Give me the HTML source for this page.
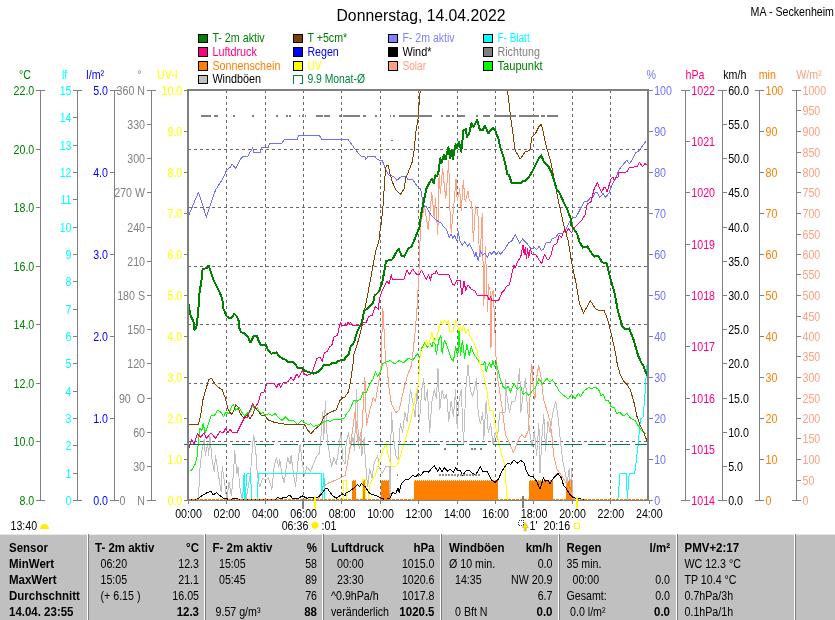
<!DOCTYPE html><html><head><meta charset="utf-8"><title>Wetter</title><style>
html,body{margin:0;padding:0;background:#fff;}body{width:835px;height:620px;overflow:hidden;font-family:"Liberation Sans",sans-serif;}
svg{display:block;will-change:transform;font-family:"Liberation Sans",sans-serif;font-size:11px;}
.b{font-weight:bold;font-size:11.5px;}
</style></head><body>
<svg width="835" height="620" viewBox="0 0 835 620">
<rect width="835" height="620" fill="#fff"/>
<text transform="translate(421 21) scale(0.955 1)" font-size="16.5" text-anchor="middle" fill="#000">Donnerstag, 14.04.2022</text>
<text transform="translate(834 16) scale(0.86 1)" font-size="12.4" text-anchor="end" fill="#000" xml:space="preserve">MA - Seckenheim</text>
<rect x="198.5" y="34.0" width="9" height="8.5" fill="#008000" stroke="#000" stroke-width="1" shape-rendering="crispEdges"/>
<text x="212.4" y="42.0" font-size="12.3" fill="#008000" textLength="52.3" lengthAdjust="spacingAndGlyphs">T- 2m aktiv</text>
<rect x="198.5" y="47.8" width="9" height="8.5" fill="#ff0080" stroke="#000" stroke-width="1" shape-rendering="crispEdges"/>
<text x="212.4" y="55.8" font-size="12.3" fill="#ff0080" textLength="44.4" lengthAdjust="spacingAndGlyphs">Luftdruck</text>
<rect x="198.5" y="61.6" width="9" height="8.5" fill="#ff8000" stroke="#000" stroke-width="1" shape-rendering="crispEdges"/>
<text x="212.4" y="69.6" font-size="12.3" fill="#ff8000" textLength="68" lengthAdjust="spacingAndGlyphs">Sonnenschein</text>
<rect x="198.5" y="75.4" width="9" height="8.5" fill="#c0c0c0" stroke="#000" stroke-width="1" shape-rendering="crispEdges"/>
<text x="212.4" y="83.4" font-size="12.3" fill="#000" textLength="48.7" lengthAdjust="spacingAndGlyphs">Windböen</text>
<rect x="293.5" y="34.0" width="9" height="8.5" fill="#804000" stroke="#000" stroke-width="1" shape-rendering="crispEdges"/>
<text x="307.4" y="42.0" font-size="12.3" fill="#008000" textLength="39.8" lengthAdjust="spacingAndGlyphs">T +5cm*</text>
<rect x="293.5" y="47.8" width="9" height="8.5" fill="#0000ff" stroke="#000" stroke-width="1" shape-rendering="crispEdges"/>
<text x="307.4" y="55.8" font-size="12.3" fill="#0000ff" textLength="31.4" lengthAdjust="spacingAndGlyphs">Regen</text>
<rect x="293.5" y="61.6" width="9" height="8.5" fill="#ffff00" stroke="#000" stroke-width="1" shape-rendering="crispEdges"/>
<text x="307.4" y="69.6" font-size="12.3" fill="#ffff00" textLength="14.3" lengthAdjust="spacingAndGlyphs">UV</text>
<path d="M293.5 83.9 V75.4 H302.5 V83.4 H299.5" fill="none" stroke="#008040" stroke-width="1" shape-rendering="crispEdges"/>
<text x="307.4" y="83.4" font-size="12.3" fill="#008040" textLength="57.6" lengthAdjust="spacingAndGlyphs">9.9 Monat-Ø</text>
<rect x="388.5" y="34.0" width="9" height="8.5" fill="#8080ff" stroke="#000" stroke-width="1" shape-rendering="crispEdges"/>
<text x="402.4" y="42.0" font-size="12.3" fill="#8080ff" textLength="52.2" lengthAdjust="spacingAndGlyphs">F- 2m aktiv</text>
<rect x="388.5" y="47.8" width="9" height="8.5" fill="#000000" stroke="#000" stroke-width="1" shape-rendering="crispEdges"/>
<text x="402.4" y="55.8" font-size="12.3" fill="#000" textLength="29.1" lengthAdjust="spacingAndGlyphs">Wind*</text>
<rect x="388.5" y="61.6" width="9" height="8.5" fill="#ffa080" stroke="#000" stroke-width="1" shape-rendering="crispEdges"/>
<text x="402.4" y="69.6" font-size="12.3" fill="#ffa080" textLength="23.7" lengthAdjust="spacingAndGlyphs">Solar</text>
<rect x="483.5" y="34.0" width="9" height="8.5" fill="#00ffff" stroke="#000" stroke-width="1" shape-rendering="crispEdges"/>
<text x="497.4" y="42.0" font-size="12.3" fill="#00ffff" textLength="32.3" lengthAdjust="spacingAndGlyphs">F- Blatt</text>
<rect x="483.5" y="47.8" width="9" height="8.5" fill="#808080" stroke="#000" stroke-width="1" shape-rendering="crispEdges"/>
<text x="497.4" y="55.8" font-size="12.3" fill="#808080" textLength="42.5" lengthAdjust="spacingAndGlyphs">Richtung</text>
<rect x="483.5" y="61.6" width="9" height="8.5" fill="#00ff00" stroke="#000" stroke-width="1" shape-rendering="crispEdges"/>
<text x="497.4" y="69.6" font-size="12.3" fill="#008000" textLength="45.3" lengthAdjust="spacingAndGlyphs">Taupunkt</text>
<g stroke="#686868" stroke-width="1" stroke-dasharray="3 3" shape-rendering="crispEdges">
<line x1="226.5" y1="90" x2="226.5" y2="500"/>
<line x1="265.5" y1="90" x2="265.5" y2="500"/>
<line x1="303.5" y1="90" x2="303.5" y2="500"/>
<line x1="341.5" y1="90" x2="341.5" y2="500"/>
<line x1="380.5" y1="90" x2="380.5" y2="500"/>
<line x1="418.5" y1="90" x2="418.5" y2="500"/>
<line x1="457.5" y1="90" x2="457.5" y2="500"/>
<line x1="495.5" y1="90" x2="495.5" y2="500"/>
<line x1="533.5" y1="90" x2="533.5" y2="500"/>
<line x1="572.5" y1="90" x2="572.5" y2="500"/>
<line x1="610.5" y1="90" x2="610.5" y2="500"/>
<line x1="188" y1="149.5" x2="648" y2="149.5"/>
<line x1="188" y1="207.5" x2="648" y2="207.5"/>
<line x1="188" y1="266.5" x2="648" y2="266.5"/>
<line x1="188" y1="324.5" x2="648" y2="324.5"/>
<line x1="188" y1="383.5" x2="648" y2="383.5"/>
<line x1="188" y1="441.5" x2="648" y2="441.5"/>
</g>
<rect x="352.4" y="479.7" width="3.2" height="20.3" fill="#ff8000" shape-rendering="crispEdges"/>
<line x1="352.4" y1="480.5" x2="355.6" y2="480.5" stroke="#fff" stroke-width="1" stroke-dasharray="1 1" shape-rendering="crispEdges"/>
<rect x="363" y="479.7" width="2.8" height="20.3" fill="#ff8000" shape-rendering="crispEdges"/>
<line x1="363" y1="480.5" x2="365.8" y2="480.5" stroke="#fff" stroke-width="1" stroke-dasharray="1 1" shape-rendering="crispEdges"/>
<rect x="380.7" y="479.7" width="8.8" height="20.3" fill="#ff8000" shape-rendering="crispEdges"/>
<line x1="380.7" y1="480.5" x2="389.5" y2="480.5" stroke="#fff" stroke-width="1" stroke-dasharray="1 1" shape-rendering="crispEdges"/>
<rect x="414.3" y="479.7" width="83.7" height="20.3" fill="#ff8000" shape-rendering="crispEdges"/>
<line x1="414.3" y1="480.5" x2="498" y2="480.5" stroke="#fff" stroke-width="1" stroke-dasharray="1 1" shape-rendering="crispEdges"/>
<rect x="529.4" y="479.7" width="23.5" height="20.3" fill="#ff8000" shape-rendering="crispEdges"/>
<line x1="529.4" y1="480.5" x2="552.9" y2="480.5" stroke="#fff" stroke-width="1" stroke-dasharray="1 1" shape-rendering="crispEdges"/>
<rect x="566" y="479.7" width="6.7" height="20.3" fill="#ff8000" shape-rendering="crispEdges"/>
<line x1="566" y1="480.5" x2="572.7" y2="480.5" stroke="#fff" stroke-width="1" stroke-dasharray="1 1" shape-rendering="crispEdges"/>
<g shape-rendering="crispEdges" stroke-linejoin="round">
<polyline points="198.5,499.8 199.7,471.1 201.9,450.8 204.2,439.5 205.3,455.3 207.6,444.0 208.7,455.3 209.8,435.0 212.1,459.8 214.3,471.1 215.5,455.3 218.9,477.9 221.1,491.4 222.2,466.6 224.5,482.4 226.8,499.8 229.0,482.4 231.3,495.9 233.5,473.4 234.7,450.8 236.9,473.4 238.0,466.6 240.3,491.4 242.6,499.8 245.9,499.8 248.2,486.9 250.5,473.4 252.7,444.0 253.8,435.0 256.1,455.3 257.2,473.4 259.5,486.9 262.9,477.9 265.1,480.1 268.5,477.9 271.9,489.2 274.2,466.6 276.4,457.6 278.7,466.6 279.8,459.8 282.1,475.6 284.3,482.4 286.6,464.3 287.7,457.6 290.0,464.3 291.1,455.3 293.4,473.4 295.6,486.9 297.9,462.1 300.1,444.0 302.4,464.3 304.6,475.6 306.9,466.6 310.3,471.1 312.5,466.6 315.9,457.6 319.3,453.0 321.6,430.5 322.7,412.4 323.8,439.5 325.4,401.1 327.2,437.2 329.5,455.3 331.7,466.6 334.0,457.6 336.2,464.3 338.5,450.8 340.8,432.7 343.0,459.8 345.0,464.3 346.1,444.0 348.4,432.7 350.6,448.5 352.9,437.2 354.5,450.8 356.3,389.8 357.4,410.1 358.5,444.0 360.8,432.7 361.9,455.3 364.2,437.2 365.3,459.8 367.6,486.9 369.8,468.8 372.1,477.9 374.3,462.1 377.7,455.3 378.9,466.6 382.2,473.4 385.6,466.6 389.7,466.6 390.1,499.8 390.6,466.6 391.3,412.4 393.5,437.2 395.8,455.3 398.0,459.8 400.3,423.7 402.6,432.7 404.8,412.4 407.1,421.4 410.5,389.8 412.7,401.1 415.0,416.9 417.2,389.8 419.5,421.4 421.7,389.8 423.6,378.5 425.1,401.1 427.4,389.8 429.7,432.7 431.9,401.1 434.2,389.8 436.4,398.9 438.0,368.4 439.8,410.1 442.1,389.8 444.3,398.9 446.6,394.3 448.8,421.4 451.1,401.1 453.4,416.9 455.6,389.8 457.2,428.2 459.0,401.1 461.3,389.8 463.5,444.0 465.8,389.8 468.0,365.0 470.3,389.8 472.5,396.6 474.8,387.6 476.4,378.5 478.2,412.4 480.4,423.7 482.7,412.4 483.8,439.5 486.1,401.1 488.3,432.7 490.6,423.7 492.9,444.0 495.1,432.7 497.4,439.5 499.6,412.4 505.0,412.4 505.0,378.5 507.3,398.9 509.5,412.4 511.8,401.1 515.2,401.1 517.4,387.6 519.7,368.4 520.8,412.4 523.1,394.3 525.3,378.5 527.6,410.1 529.8,432.7 532.1,446.3 534.3,430.5 536.6,455.3 538.9,423.7 540.0,473.4 542.2,432.7 543.8,414.7 545.6,450.8 547.9,421.4 550.1,432.7 552.4,414.7 555.8,401.1 558.0,416.9 560.3,439.5 562.6,459.8 564.8,471.1 567.1,482.4 569.3,468.8 570.5,486.9 571.6,468.8 572.7,498.2 573.8,499.8" fill="none" stroke="#c0c0c0" stroke-width="1" />
<polyline points="318.2,499.8 322.7,486.9 329.5,482.4 336.2,480.1 345.0,475.6 347.3,464.3 349.5,450.8 352.9,428.2 355.2,410.1 357.4,439.5 359.7,448.5 361.9,430.5 364.2,387.6 364.9,377.4 366.4,425.9 369.8,410.1 373.2,397.7 375.5,401.1 378.9,380.8 381.1,365.0 381.8,337.9 382.9,308.5 384.5,337.9 385.6,362.7 386.8,365.0 389.0,387.6 391.3,403.4 395.8,412.4 399.2,410.1 403.7,389.8 407.1,376.3 411.6,365.0 415.0,333.4 417.2,306.3 419.0,270.1 420.6,225.0 419.7,229.9 420.9,222.6 424.5,205.7 428.2,229.9 431.8,192.4 434.2,217.8 435.4,198.4 437.8,234.7 439.1,174.2 440.3,193.6 442.7,168.2 443.9,181.5 445.8,198.4 448.7,160.9 450.0,210.5 451.2,232.3 453.6,208.1 456.0,179.1 457.2,200.8 459.6,188.7 461.3,210.5 463.3,180.3 465.2,202.1 468.1,191.2 469.3,200.8 471.7,202.1 473.4,242.0 475.4,206.9 477.8,210.5 479.0,244.4 480.2,256.5 482.2,213.0 483.8,306 485.5,246.9 487.5,312 488.5,285 490,290 491,348 492,295 493.2,290 494.2,312 495.8,354 497.4,376.8 502.3,409 505.5,434.8 508.7,441.3 513.5,452.6 518.4,439.7 521.6,434.8 524.8,438 528,431.6 529.7,409 530.6,376.8 531.9,363.9 533.5,389.7 534.8,400 536.8,376.8 538.7,365.5 541,376.8 543.4,398.9 546.8,410.1 550.1,421.4 552.4,439.5 553.5,455.3 556.9,468.8 561.4,475.6 565.9,482.4 569.3,489.2 572.7,495.9 575.0,499.8" fill="none" stroke="#ffa080" stroke-width="1" />
<polyline points="188.4,215.9 198.5,192.2 206.4,217.1 215.5,190.0 222.2,179.8 226.8,169.7 230.1,167.4 232.0,164.0 235.8,168.5 240.3,159.5 243.2,156.1 247.8,156.1 252.7,147.8 253.8,152.3 260.6,152.3 261.7,147.1 268.5,147.1 269.7,143.2 282.1,143.2 284.3,139.2 297.2,139.2 298.5,135.1 319.3,135.1 321.6,139.2 345.0,139.2 348.4,139.9 355.2,149.3 360.8,156.1 364.9,156.8 365.8,159.5 367.6,156.8 375.5,156.8 377.1,159.5 382.2,160.6 386.8,171.9 389.0,175.3 393.5,176.4 396.9,180.3 401.4,176.4 405.9,176.4 408.2,179.8 412.7,179.8 418.4,187.7 420.6,188.8 422.9,202.4 424.0,205.8 426.3,206.9 430.8,214.8 436.4,220.4 442.1,223.8 442.1,225.0 446.6,229.5 449.3,237.4 451.1,234.0 452.9,238.5 454.5,235.2 456.7,240.8 458.3,231.8 460.1,241.9 462.4,245.3 464.6,241.9 468.0,246.4 469.2,243.1 472.5,249.8 474.8,256.6 475.9,252.1 478.2,261.1 480.4,251.0 482.7,255.5 485.0,253.2 487.2,257.7 489.5,252.1 491.7,254.3 494.0,251.0 496.2,254.3 498.5,251.6 500.8,254.3 503.0,251.0 505.0,249.4 505.0,248.7 508.4,243.1 511.8,240.8 515.2,234.5 519.7,243.1 522.6,239.0 527.6,244.2 531.0,248.7 534.3,247.6 536.6,249.8 538.9,246.4 541.1,250.3 543.4,249.8 545.6,243.1 550.1,242.6 552.4,238.5 555.8,237.4 558.0,234.0 562.6,233.6 565.9,229.5 568.2,225.0 571.6,218.2 576.1,217.1 584.0,201.9 587.4,201.3 590.8,197.4 593.0,197.4 595.3,192.2 597.6,192.9 599.8,197.2 603.2,193.4 605.5,197.2 608.8,193.4 612.2,184.3 615.6,178.7 619.0,169.7 626.9,160.2 629.6,164.0 635.9,152.7 638.2,151.6 646.1,141.0" fill="none" stroke="#7070ff" stroke-width="1" />
<polyline points="242.6,499.8 244.1,473.4 245.0,499.8 247.1,473.4 250.5,473.4 251.8,499.8" fill="none" stroke="#00ffff" stroke-width="1" />
<polyline points="257.2,499.8 258.4,473.4 321.6,473.4 322.2,499.8 323.8,473.4 325.0,499.8" fill="none" stroke="#00ffff" stroke-width="1" />
<polyline points="617.9,499.8 620.1,473.4 626.4,473.4 627.3,499.8 629.2,473.4 634.8,473.4 638.2,444.0 640.4,419.2 643.1,416.9 645.0,394.3 646.1,376.3 646.8,365.0" fill="none" stroke="#00ffff" stroke-width="1" />
<polyline points="189.5,470.0 191.8,470.0 195.2,464.3 197.4,455.3 198.5,439.5 199.7,428.2 201.9,430.5 203.1,423.7 205.3,432.7 207.6,425.9 211.0,415.8 214.3,415.8 217.7,410.1 221.1,412.4 223.4,416.9 225.6,412.4 229.0,413.5 231.3,406.8 233.5,404.5 235.8,410.1 239.2,407.9 242.6,413.5 244.8,415.8 248.2,412.4 250.5,411.3 252.7,405.6 255.0,409.0 257.2,407.9 260.6,413.5 262.9,412.4 265.1,415.8 268.5,413.5 271.9,415.8 275.3,413.5 278.7,418.0 282.1,420.3 285.5,416.9 288.8,420.3 293.4,420.3 297.9,424.8 301.3,420.3 304.6,422.6 308.0,424.8 310.3,423.7 313.7,426.4 318.2,424.8 322.7,422.6 327.2,420.3 330.6,421.4 334.0,419.2 338.5,419.6 343.0,418.7 345.0,417.4 345.0,415.8 349.5,410.1 354.0,400.0 357.4,401.1 360.8,398.9 363.1,392.1 366.4,392.1 369.8,384.2 373.2,378.5 375.5,371.8 377.7,376.3 381.1,369.5 382.2,365.0 382.2,363.8 390.1,360.4 394.7,363.8 399.2,360.4 403.7,362.7 408.2,358.2 412.7,360.4 417.2,353.7 419.5,358.2 421.7,348.0 425.1,342.4 427.4,348.0 429.7,342.4 431.9,346.9 434.2,337.9 436.4,354.8 438.7,340.1 440.9,335.6 442.1,353.7 444.3,340.1 446.6,344.6 448.8,351.4 451.1,358.2 453.4,361.6 455.6,346.9 457.9,355.9 459.0,331.1 460.6,355.9 462.4,340.1 464.6,358.2 466.9,344.6 469.2,355.9 471.4,346.9 473.7,353.7 475.9,357.1 478.2,360.4 480.4,364.5 482.7,365.0 485.0,361.6 486.1,371.8 487.9,366.1 489.5,362.7 491.3,367.7 492.9,360.5 494.4,366.8 496.2,362.7 498.5,371.8 500.8,380.8 503.0,386.4 505.0,388.7 505.0,388.7 508.4,386.4 510.6,392.1 514.0,383.1 517.4,389.8 520.8,386.4 523.1,394.3 526.4,392.1 528.7,395.5 532.1,391.0 535.5,387.6 538.9,378.5 542.2,384.2 546.8,378.5 550.1,381.9 552.4,379.7 555.8,385.3 559.2,391.0 563.7,395.5 568.2,398.9 571.6,394.3 575.0,398.9 578.4,393.2 580.6,396.6 584.0,391.0 588.5,387.6 591.9,388.7 595.3,387.1 598.7,389.8 600.9,395.5 603.2,394.3 605.5,400.0 608.8,401.1 611.1,406.8 614.5,407.9 616.7,413.5 620.1,412.4 623.5,415.8 626.9,413.5 630.3,418.0 634.8,420.3 638.2,425.9 641.6,430.5 646.1,433.8" fill="none" stroke="#00ff00" stroke-width="1" />
<polyline points="343.7,499.8 343.7,480 346.5,480 346.5,499.8" fill="none" stroke="#ffff00" stroke-width="1" />
<polyline points="362.4,499.8 362.4,479.5 365.2,479.5 365.2,499.8" fill="none" stroke="#ffff00" stroke-width="1" />
<polyline points="368.3,499.8 369.5,485 372,480 375.5,475 378,466 380.5,457 383.5,449 386,443.5 388.5,456 391,466 395.5,467 398.5,463 401.5,452 405.9,437.2 410.5,421.4 413.8,405.6 416.1,392.1 418.4,385.3 419.5,365.0 420.6,350.3 424.0,346.9 426.3,340.1 428.5,345.8 431.9,332.2 434.2,342.4 437.6,333.4 439.8,324.3 440.9,320.9 442.5,324.3 444.3,320.9 446.6,323.2 448.4,320.9 449.5,331.1 452.9,332.2 455.6,320.3 457.2,323.2 459.0,331.1 460.6,326.6 461.9,331.1 463.5,325.5 465.8,333.4 468.0,328.8 470.3,336.7 473.7,342.4 477.1,351.4 479.3,361.6 480.4,365.0 483.8,376.3 487.2,392.1 489.5,410.1 492.9,410.1 495.1,423.7 498.5,441.7 501.9,455.3 505.0,465.5 505.0,471.1 507.3,499.8" fill="none" stroke="#ffff00" stroke-width="1" />
<polyline points="188.4,449.7 191.8,439.5 194.0,444.0 197.4,433.8 200.8,437.2 204.2,432.7 206.4,438.4 211.0,432.7 215.5,438.4 220.0,431.6 223.4,432.7 225.6,428.2 227.9,432.7 230.1,429.3 232.4,432.7 236.9,432.7 241.4,423.7 244.8,416.9 247.1,418.0 250.5,409.0 252.7,403.4 255.0,407.9 258.4,402.2 260.6,393.2 264.0,392.1 266.7,383.5 274.2,383.1 276.4,387.6 278.7,383.1 280.9,387.6 283.2,382.6 287.7,381.9 291.1,377.4 293.4,380.8 296.7,374.0 299.0,377.4 302.4,370.6 304.6,374.0 306.9,375.2 311.4,374.0 314.8,365.0 317.1,358.2 320.4,357.1 322.2,361.6 324.5,352.5 327.2,351.4 329.5,346.9 331.7,345.8 334.0,336.7 337.4,335.6 339.6,325.5 340.8,322.1 341.9,325.9 345.0,325.9 345.0,323.2 346.8,325.5 347.7,322.1 349.1,324.3 350.6,322.1 352.9,325.9 360.8,325.9 363.1,322.1 366.4,322.1 368.7,316.4 372.1,315.3 375.5,306.3 378.4,309.7 379.3,299.5 382.2,290.5 386.8,281.4 389.0,283.7 391.3,274.7 392.4,279.9 403.7,279.9 407.1,270.1 409.3,274.7 412.7,269.0 416.8,274.7 419.5,274.2 421.7,270.1 426.3,279.2 428.5,274.7 430.3,280.3 431.9,274.2 435.3,273.5 436.4,270.1 438.0,274.2 448.8,274.2 452.2,283.7 454.5,285.5 456.7,280.3 460.1,280.3 461.9,295.0 464.0,281.4 465.8,290.5 468.0,284.8 471.4,289.3 474.8,290.5 477.1,295.4 487.2,295.4 489.0,299.5 490.6,296.8 491.7,300.6 498.5,300.6 501.9,292.7 505.0,289.3 505.0,288.2 507.3,285.9 509.5,284.8 512.9,269.0 514.0,265.6 515.2,267.9 517.4,262.2 520.8,256.6 523.1,244.9 524.2,254.3 525.3,247.6 526.4,258.9 527.6,248.7 528.7,257.7 530.3,248.7 532.1,254.3 535.5,254.3 537.7,257.7 541.6,263.8 544.5,254.3 546.8,258.9 549.0,259.3 551.3,254.3 553.5,245.3 556.9,243.5 559.2,235.2 561.4,237.4 564.1,230.6 565.9,232.9 568.2,228.4 571.6,232.9 573.8,228.4 577.2,225.0 578.4,223.8 581.7,220.4 585.1,214.8 587.4,203.5 590.8,202.4 594.2,188.8 597.6,182.5 599.4,187.7 601.6,192.2 603.9,187.7 605.5,187.7 607.0,192.2 611.1,178.7 612.9,177.1 614.5,180.9 615.6,177.1 617.9,177.1 619.0,172.6 626.9,171.9 629.2,167.4 637.1,166.7 639.3,162.2 642.7,166.7 645.0,163.6 646.8,165.1" fill="none" stroke="#ff0080" stroke-width="1" />
<polyline points="188.4,424.4 198.5,424.4 200.8,414.7 203.1,398.9 206.4,387.6 208.7,379.7 211.6,378.1 214.3,383.1 218.9,387.6 222.2,389.8 225.6,398.9 227.9,409.0 231.3,414.7 233.5,411.3 235.8,404.5 238.0,406.8 240.3,413.5 243.7,418.0 247.1,414.7 250.0,418.5 252.7,414.7 255.4,407.9 258.4,411.3 261.7,415.8 265.1,415.8 268.5,420.3 275.3,422.6 284.3,424.1 297.9,424.8 304.6,424.8 308.0,430.5 311.0,433.8 314.8,429.3 320.4,424.8 323.8,416.9 329.5,412.4 336.2,410.1 339.6,401.1 343.0,397.7 345.0,397.3 345.0,396.6 348.4,392.1 350.6,380.8 352.9,365.0 354.0,353.7 358.5,340.1 361.9,326.6 364.2,311.9 367.6,295.0 371.0,276.9 373.2,264.5 375.5,252.1 378.9,240.8 380.7,225.0 381.1,225.0 383.4,202.4 384.5,182.1 385.6,168.5 386.8,165.1 388.3,165.8 390.1,174.2 392.4,182.1 395.8,190.0 400.3,194.5 404.1,188.8 405.9,177.6 409.3,169.7 412.3,161.7 413.8,152.7 416.1,130.1 418.4,116.6 419.5,96.3 420.6,89.1" fill="none" stroke="#804000" stroke-width="1" />
<polyline points="507.3,89.1 510.6,116.6 515.2,150.5 520.3,159.0 525.3,151.6 529.8,150.5 532.1,136.9 535.5,133.5 538.9,126.8 541.1,124.5 542.9,130.1 545.6,143.7 551.3,164.0 554.7,182.1 559.2,204.6 563.7,225.0 568.2,240.8 571.6,262.2 576.1,283.7 579.5,304.0 583.6,313.0 590.3,300.6 595.3,308.5 599.8,310.8 604.3,310.8 607.7,319.8 610.6,331.1 613.4,343.5 615.6,353.7 617.4,365.0 620.1,374.0 623.5,380.8 626.9,384.2 630.3,389.8 633.7,401.1 637.1,416.9 640.4,425.9 643.8,432.7 646.8,440.6" fill="none" stroke="#804000" stroke-width="1" />
<line x1="183.5" y1="444.5" x2="227" y2="444.5" stroke="#008040" stroke-width="1"/>
<line x1="232.4" y1="444.5" x2="648" y2="444.5" stroke="#008040" stroke-width="1" stroke-dasharray="18 5.7"/>
<polyline points="188,499.5 197,499.5 198.5,498.2 203.1,494.8 207.6,492.5 211.0,491.4 213.2,494.8 216.6,492.5 218.9,494.8 223.4,498.2 230.1,499.5 234.7,498.2 239.2,499.5 252.7,499.5 275.3,499.5 277.6,497.1 279.8,498.6 286.6,497.1 290.0,494.8 292.2,498.2 297.9,498.6 302.4,495.9 306.9,498.2 311.4,497.1 314.8,498.6 318.2,497.1 321.6,493.7 325.0,489.2 327.2,488.0 329.5,491.4 332.9,495.9 336.2,498.2 339.6,495.9 343.0,493.7 345.0,495.9 345.0,493.7 349.5,491.4 354.0,488.0 357.4,484.6 359.7,486.9 361.3,483.5 365.3,486.9 369.8,493.7 376.6,495.9 384.5,499.5 390.1,498.2 392.4,492.5 395.8,493.7 398.0,488.0 399.2,492.5 401.4,483.5 404.8,480.1 409.3,479.0 412.7,475.6 416.1,476.7 418.4,473.4 420.6,475.6 424.0,471.1 428.5,472.2 434.2,465.5 437.6,471.1 439.8,467.7 442.1,472.2 444.3,467.7 447.7,471.1 450.0,468.8 453.4,472.2 455.6,467.7 457.9,471.1 460.1,470.0 462.4,475.6 465.8,471.1 469.2,470.0 472.5,473.4 475.9,474.5 480.4,466.6 482.7,471.1 487.2,471.1 491.7,480.1 495.1,482.4 498.5,479.0 501.9,471.1 505.0,466.6 505.0,465.5 508.4,463.2 510.6,464.3 514.0,459.8 517.4,463.2 520.8,460.3 524.2,463.2 526.4,471.1 528.7,475.6 533.2,476.7 536.6,481.3 540.0,489.2 543.4,477.9 545.6,481.3 547.9,480.1 550.1,483.5 553.5,477.9 558.0,473.4 561.4,477.9 563.7,485.8 565.9,488.0 569.3,493.7 572.7,497.1 577.2,498.6 585.1,499.5" fill="none" stroke="#000" stroke-width="1" />
<line x1="188" y1="499.5" x2="648" y2="499.5" stroke="#ff8000" stroke-width="1" stroke-dasharray="3 1" shape-rendering="crispEdges"/>
<polyline points="188.4,304.0 190.6,315.3 193.6,322.1 194.5,330.0 196.3,327.7 198.1,313.0 199.7,290.5 201.3,282.6 202.6,269.0 206.4,268.3 208.7,265.6 213.2,279.2 218.9,290.5 222.2,298.4 223.4,308.5 226.8,316.4 229.0,318.0 232.0,317.6 234.2,313.7 236.9,316.4 238.7,320.9 239.2,327.7 241.0,332.2 244.1,333.4 247.8,336.7 250.5,342.4 253.8,336.1 256.8,335.6 258.4,340.1 260.6,344.6 265.8,344.6 268.1,350.3 271.2,353.7 276.4,352.5 278.7,355.9 282.1,358.2 286.6,360.4 287.7,361.6 293.4,362.0 295.6,364.5 295.6,365.0 297.9,367.7 302.4,367.7 304.6,370.6 309.2,372.2 313.7,373.6 318.2,371.8 321.6,368.4 323.8,365.0 329.5,365.0 331.7,363.2 336.2,363.2 338.5,360.9 345.0,359.4 345.0,358.2 348.4,354.8 350.6,346.9 354.0,342.4 357.4,331.1 361.9,322.1 364.2,310.8 367.6,308.5 373.2,302.9 374.3,296.1 378.9,291.6 382.2,282.6 384.5,270.1 386.1,261.1 392.4,259.3 395.8,253.2 398.7,248.7 401.4,255.5 404.1,256.6 408.2,248.7 411.6,246.4 415.0,238.5 417.2,232.9 420.2,225.0 419.5,225.0 421.7,211.4 424.0,200.1 426.3,188.8 429.7,182.1 431.9,178.7 433.7,183.2 435.3,175.3 437.1,176.4 438.7,170.8 440.3,158.4 441.6,162.9 443.9,155.0 445.5,159.5 448.4,147.1 450.0,158.4 451.5,150.5 452.9,159.5 455.6,144.1 457.2,148.2 459.0,141.4 461.3,151.6 463.5,130.1 465.8,129.0 466.9,136.9 469.2,133.5 471.4,123.4 473.7,126.8 477.1,120.0 480.0,130.1 482.7,130.1 485.0,125.6 488.3,133.5 492.9,127.9 495.1,130.1 498.5,139.2 500.8,149.3 503.0,155.0 505.0,162.9 507.3,174.2 509.1,175.3 511.8,183.2 520.8,183.2 523.1,180.9 525.3,180.9 528.7,177.6 533.2,169.7 538.9,158.4 541.1,155.4 544.5,162.9 549.0,167.4 551.3,171.9 556.9,190.0 559.2,192.2 563.7,202.4 567.1,209.2 570.5,218.2 571.1,225.0 577.2,234.0 579.5,241.9 582.9,247.6 587.4,246.4 590.8,252.1 594.2,256.6 598.0,255.5 602.1,262.2 606.6,263.4 610.0,276.9 614.5,292.7 617.9,310.8 622.4,326.6 625.8,329.3 629.2,328.4 633.7,340.1 638.2,355.9 641.6,363.1 643.1,365.0 645.0,370.6 647.2,375.2" fill="none" stroke="#008000" stroke-width="2" />
<line x1="200.8" y1="116" x2="211" y2="116" stroke="#808080" stroke-width="2"/>
<line x1="213.7" y1="116" x2="218" y2="116" stroke="#808080" stroke-width="2"/>
<line x1="233" y1="116" x2="235" y2="116" stroke="#808080" stroke-width="2"/>
<line x1="252" y1="116" x2="254" y2="116" stroke="#808080" stroke-width="2"/>
<line x1="276" y1="116" x2="278" y2="116" stroke="#808080" stroke-width="2"/>
<line x1="286" y1="116" x2="288" y2="116" stroke="#808080" stroke-width="2"/>
<line x1="289" y1="116" x2="291" y2="116" stroke="#808080" stroke-width="2"/>
<line x1="298.5" y1="116" x2="300" y2="116" stroke="#808080" stroke-width="2"/>
<line x1="301.5" y1="116" x2="303.5" y2="116" stroke="#808080" stroke-width="2"/>
<line x1="304.5" y1="116" x2="306" y2="116" stroke="#808080" stroke-width="2"/>
<line x1="315.7" y1="116" x2="323" y2="116" stroke="#808080" stroke-width="2"/>
<line x1="324.4" y1="116" x2="330" y2="116" stroke="#808080" stroke-width="2"/>
<line x1="338.5" y1="116" x2="340.5" y2="116" stroke="#808080" stroke-width="2"/>
<line x1="343" y1="116" x2="360.3" y2="116" stroke="#808080" stroke-width="2"/>
<line x1="362.6" y1="116" x2="366" y2="116" stroke="#808080" stroke-width="2"/>
<line x1="375" y1="116" x2="377" y2="116" stroke="#808080" stroke-width="2"/>
<line x1="389.6" y1="116" x2="391.4" y2="116" stroke="#808080" stroke-width="2"/>
<line x1="392.8" y1="116" x2="394.8" y2="116" stroke="#808080" stroke-width="2"/>
<line x1="399" y1="116" x2="431.9" y2="116" stroke="#808080" stroke-width="2"/>
<line x1="440.5" y1="116" x2="442.5" y2="116" stroke="#808080" stroke-width="2"/>
<line x1="445.5" y1="116" x2="450" y2="116" stroke="#808080" stroke-width="2"/>
<line x1="452" y1="116" x2="454" y2="116" stroke="#808080" stroke-width="2"/>
<line x1="457.9" y1="116" x2="464.6" y2="116" stroke="#808080" stroke-width="2"/>
<line x1="475.9" y1="116" x2="478.2" y2="116" stroke="#808080" stroke-width="2"/>
<line x1="482.7" y1="116" x2="489.5" y2="116" stroke="#808080" stroke-width="2"/>
<line x1="494" y1="116" x2="516.3" y2="116" stroke="#808080" stroke-width="2"/>
<line x1="518.5" y1="116" x2="538.9" y2="116" stroke="#808080" stroke-width="2"/>
<line x1="541.1" y1="116" x2="544.5" y2="116" stroke="#808080" stroke-width="2"/>
<line x1="546.8" y1="116" x2="558" y2="116" stroke="#808080" stroke-width="2"/>
<rect x="391" y="139.5" width="1.5" height="1.5" fill="#808080"/>
<rect x="396.5" y="474" width="1.5" height="1.5" fill="#808080"/>
<rect x="444" y="448" width="2" height="1.5" fill="#808080"/>
<rect x="470.5" y="448" width="2" height="1.5" fill="#808080"/>
<rect x="473.5" y="448" width="2" height="1.5" fill="#808080"/>
<rect x="480" y="448" width="2" height="1.5" fill="#808080"/>
<line x1="439" y1="475" x2="481" y2="475" stroke="#909090" stroke-width="1.5" stroke-dasharray="1.5 1.5"/>
</g>
<g stroke="#808080" stroke-width="2" shape-rendering="crispEdges">
<line x1="188" y1="89" x2="188" y2="501"/>
<line x1="187" y1="90" x2="649" y2="90"/>
<line x1="648" y1="89" x2="648" y2="501"/>
</g>
<line x1="184" y1="500.5" x2="653" y2="500.5" stroke="#808080" stroke-width="1" shape-rendering="crispEdges"/>
<g stroke="#808080" stroke-width="1" shape-rendering="crispEdges">
<line x1="188.5" y1="500" x2="188.5" y2="504"/>
<line x1="226.5" y1="500" x2="226.5" y2="504"/>
<line x1="265.5" y1="500" x2="265.5" y2="504"/>
<line x1="303.5" y1="500" x2="303.5" y2="504"/>
<line x1="341.5" y1="500" x2="341.5" y2="504"/>
<line x1="380.5" y1="500" x2="380.5" y2="504"/>
<line x1="418.5" y1="500" x2="418.5" y2="504"/>
<line x1="457.5" y1="500" x2="457.5" y2="504"/>
<line x1="495.5" y1="500" x2="495.5" y2="504"/>
<line x1="533.5" y1="500" x2="533.5" y2="504"/>
<line x1="572.5" y1="500" x2="572.5" y2="504"/>
<line x1="610.5" y1="500" x2="610.5" y2="504"/>
<line x1="649.5" y1="500" x2="649.5" y2="504"/>
</g>
<text transform="translate(188.5 518) scale(0.86 1)" font-size="12.4" text-anchor="middle" fill="#000" xml:space="preserve">00:00</text>
<text transform="translate(226.9 518) scale(0.86 1)" font-size="12.4" text-anchor="middle" fill="#000" xml:space="preserve">02:00</text>
<text transform="translate(265.3 518) scale(0.86 1)" font-size="12.4" text-anchor="middle" fill="#000" xml:space="preserve">04:00</text>
<text transform="translate(303.7 518) scale(0.86 1)" font-size="12.4" text-anchor="middle" fill="#000" xml:space="preserve">06:00</text>
<text transform="translate(342.1 518) scale(0.86 1)" font-size="12.4" text-anchor="middle" fill="#000" xml:space="preserve">08:00</text>
<text transform="translate(380.5 518) scale(0.86 1)" font-size="12.4" text-anchor="middle" fill="#000" xml:space="preserve">10:00</text>
<text transform="translate(418.9 518) scale(0.86 1)" font-size="12.4" text-anchor="middle" fill="#000" xml:space="preserve">12:00</text>
<text transform="translate(457.3 518) scale(0.86 1)" font-size="12.4" text-anchor="middle" fill="#000" xml:space="preserve">14:00</text>
<text transform="translate(495.7 518) scale(0.86 1)" font-size="12.4" text-anchor="middle" fill="#000" xml:space="preserve">16:00</text>
<text transform="translate(534.0999999999999 518) scale(0.86 1)" font-size="12.4" text-anchor="middle" fill="#000" xml:space="preserve">18:00</text>
<text transform="translate(572.5 518) scale(0.86 1)" font-size="12.4" text-anchor="middle" fill="#000" xml:space="preserve">20:00</text>
<text transform="translate(610.9 518) scale(0.86 1)" font-size="12.4" text-anchor="middle" fill="#000" xml:space="preserve">22:00</text>
<text transform="translate(649.3 518) scale(0.86 1)" font-size="12.4" text-anchor="middle" fill="#000" xml:space="preserve">24:00</text>
<line x1="40.5" y1="90" x2="40.5" y2="501" stroke="#808080" stroke-width="1" shape-rendering="crispEdges"/>
<line x1="36" y1="90.5" x2="45" y2="90.5" stroke="#808080" stroke-width="1" shape-rendering="crispEdges"/>
<text transform="translate(34.3 94.5) scale(0.86 1)" font-size="12.4" text-anchor="end" fill="#008000" xml:space="preserve">22.0</text>
<line x1="36" y1="149.5" x2="40" y2="149.5" stroke="#808080" stroke-width="1" shape-rendering="crispEdges"/>
<text transform="translate(34.3 153.5) scale(0.86 1)" font-size="12.4" text-anchor="end" fill="#008000" xml:space="preserve">20.0</text>
<line x1="36" y1="207.5" x2="40" y2="207.5" stroke="#808080" stroke-width="1" shape-rendering="crispEdges"/>
<text transform="translate(34.3 211.5) scale(0.86 1)" font-size="12.4" text-anchor="end" fill="#008000" xml:space="preserve">18.0</text>
<line x1="36" y1="266.5" x2="40" y2="266.5" stroke="#808080" stroke-width="1" shape-rendering="crispEdges"/>
<text transform="translate(34.3 270.5) scale(0.86 1)" font-size="12.4" text-anchor="end" fill="#008000" xml:space="preserve">16.0</text>
<line x1="36" y1="324.5" x2="40" y2="324.5" stroke="#808080" stroke-width="1" shape-rendering="crispEdges"/>
<text transform="translate(34.3 328.5) scale(0.86 1)" font-size="12.4" text-anchor="end" fill="#008000" xml:space="preserve">14.0</text>
<line x1="36" y1="383.5" x2="40" y2="383.5" stroke="#808080" stroke-width="1" shape-rendering="crispEdges"/>
<text transform="translate(34.3 387.5) scale(0.86 1)" font-size="12.4" text-anchor="end" fill="#008000" xml:space="preserve">12.0</text>
<line x1="36" y1="441.5" x2="40" y2="441.5" stroke="#808080" stroke-width="1" shape-rendering="crispEdges"/>
<text transform="translate(34.3 445.5) scale(0.86 1)" font-size="12.4" text-anchor="end" fill="#008000" xml:space="preserve">10.0</text>
<line x1="36" y1="500.5" x2="45" y2="500.5" stroke="#808080" stroke-width="1" shape-rendering="crispEdges"/>
<text transform="translate(34.3 504.5) scale(0.86 1)" font-size="12.4" text-anchor="end" fill="#008000" xml:space="preserve">8.0</text>
<line x1="77.5" y1="90" x2="77.5" y2="501" stroke="#808080" stroke-width="1" shape-rendering="crispEdges"/>
<line x1="73" y1="90.5" x2="82" y2="90.5" stroke="#808080" stroke-width="1" shape-rendering="crispEdges"/>
<text transform="translate(71.5 94.5) scale(0.86 1)" font-size="12.4" text-anchor="end" fill="#00ffff" xml:space="preserve">15</text>
<line x1="73" y1="117.5" x2="77" y2="117.5" stroke="#808080" stroke-width="1" shape-rendering="crispEdges"/>
<text transform="translate(71.5 121.5) scale(0.86 1)" font-size="12.4" text-anchor="end" fill="#00ffff" xml:space="preserve">14</text>
<line x1="73" y1="145.5" x2="77" y2="145.5" stroke="#808080" stroke-width="1" shape-rendering="crispEdges"/>
<text transform="translate(71.5 149.5) scale(0.86 1)" font-size="12.4" text-anchor="end" fill="#00ffff" xml:space="preserve">13</text>
<line x1="73" y1="172.5" x2="77" y2="172.5" stroke="#808080" stroke-width="1" shape-rendering="crispEdges"/>
<text transform="translate(71.5 176.5) scale(0.86 1)" font-size="12.4" text-anchor="end" fill="#00ffff" xml:space="preserve">12</text>
<line x1="73" y1="199.5" x2="77" y2="199.5" stroke="#808080" stroke-width="1" shape-rendering="crispEdges"/>
<text transform="translate(71.5 203.5) scale(0.86 1)" font-size="12.4" text-anchor="end" fill="#00ffff" xml:space="preserve">11</text>
<line x1="73" y1="227.5" x2="77" y2="227.5" stroke="#808080" stroke-width="1" shape-rendering="crispEdges"/>
<text transform="translate(71.5 231.5) scale(0.86 1)" font-size="12.4" text-anchor="end" fill="#00ffff" xml:space="preserve">10</text>
<line x1="73" y1="254.5" x2="77" y2="254.5" stroke="#808080" stroke-width="1" shape-rendering="crispEdges"/>
<text transform="translate(71.5 258.5) scale(0.86 1)" font-size="12.4" text-anchor="end" fill="#00ffff" xml:space="preserve">9</text>
<line x1="73" y1="281.5" x2="77" y2="281.5" stroke="#808080" stroke-width="1" shape-rendering="crispEdges"/>
<text transform="translate(71.5 285.5) scale(0.86 1)" font-size="12.4" text-anchor="end" fill="#00ffff" xml:space="preserve">8</text>
<line x1="73" y1="309.5" x2="77" y2="309.5" stroke="#808080" stroke-width="1" shape-rendering="crispEdges"/>
<text transform="translate(71.5 313.5) scale(0.86 1)" font-size="12.4" text-anchor="end" fill="#00ffff" xml:space="preserve">7</text>
<line x1="73" y1="336.5" x2="77" y2="336.5" stroke="#808080" stroke-width="1" shape-rendering="crispEdges"/>
<text transform="translate(71.5 340.5) scale(0.86 1)" font-size="12.4" text-anchor="end" fill="#00ffff" xml:space="preserve">6</text>
<line x1="73" y1="363.5" x2="77" y2="363.5" stroke="#808080" stroke-width="1" shape-rendering="crispEdges"/>
<text transform="translate(71.5 367.5) scale(0.86 1)" font-size="12.4" text-anchor="end" fill="#00ffff" xml:space="preserve">5</text>
<line x1="73" y1="391.5" x2="77" y2="391.5" stroke="#808080" stroke-width="1" shape-rendering="crispEdges"/>
<text transform="translate(71.5 395.5) scale(0.86 1)" font-size="12.4" text-anchor="end" fill="#00ffff" xml:space="preserve">4</text>
<line x1="73" y1="418.5" x2="77" y2="418.5" stroke="#808080" stroke-width="1" shape-rendering="crispEdges"/>
<text transform="translate(71.5 422.5) scale(0.86 1)" font-size="12.4" text-anchor="end" fill="#00ffff" xml:space="preserve">3</text>
<line x1="73" y1="445.5" x2="77" y2="445.5" stroke="#808080" stroke-width="1" shape-rendering="crispEdges"/>
<text transform="translate(71.5 449.5) scale(0.86 1)" font-size="12.4" text-anchor="end" fill="#00ffff" xml:space="preserve">2</text>
<line x1="73" y1="473.5" x2="77" y2="473.5" stroke="#808080" stroke-width="1" shape-rendering="crispEdges"/>
<text transform="translate(71.5 477.5) scale(0.86 1)" font-size="12.4" text-anchor="end" fill="#00ffff" xml:space="preserve">1</text>
<line x1="73" y1="500.5" x2="82" y2="500.5" stroke="#808080" stroke-width="1" shape-rendering="crispEdges"/>
<text transform="translate(71.5 504.5) scale(0.86 1)" font-size="12.4" text-anchor="end" fill="#00ffff" xml:space="preserve">0</text>
<line x1="114.5" y1="90" x2="114.5" y2="501" stroke="#808080" stroke-width="1" shape-rendering="crispEdges"/>
<line x1="110" y1="90.5" x2="119" y2="90.5" stroke="#808080" stroke-width="1" shape-rendering="crispEdges"/>
<text transform="translate(108 94.5) scale(0.86 1)" font-size="12.4" text-anchor="end" fill="#0000ff" xml:space="preserve">5.0</text>
<line x1="110" y1="172.5" x2="114" y2="172.5" stroke="#808080" stroke-width="1" shape-rendering="crispEdges"/>
<text transform="translate(108 176.5) scale(0.86 1)" font-size="12.4" text-anchor="end" fill="#0000ff" xml:space="preserve">4.0</text>
<line x1="110" y1="254.5" x2="114" y2="254.5" stroke="#808080" stroke-width="1" shape-rendering="crispEdges"/>
<text transform="translate(108 258.5) scale(0.86 1)" font-size="12.4" text-anchor="end" fill="#0000ff" xml:space="preserve">3.0</text>
<line x1="110" y1="336.5" x2="114" y2="336.5" stroke="#808080" stroke-width="1" shape-rendering="crispEdges"/>
<text transform="translate(108 340.5) scale(0.86 1)" font-size="12.4" text-anchor="end" fill="#0000ff" xml:space="preserve">2.0</text>
<line x1="110" y1="418.5" x2="114" y2="418.5" stroke="#808080" stroke-width="1" shape-rendering="crispEdges"/>
<text transform="translate(108 422.5) scale(0.86 1)" font-size="12.4" text-anchor="end" fill="#0000ff" xml:space="preserve">1.0</text>
<line x1="110" y1="500.5" x2="119" y2="500.5" stroke="#808080" stroke-width="1" shape-rendering="crispEdges"/>
<text transform="translate(108 504.5) scale(0.86 1)" font-size="12.4" text-anchor="end" fill="#0000ff" xml:space="preserve">0.0</text>
<line x1="151.5" y1="90" x2="151.5" y2="501" stroke="#808080" stroke-width="1" shape-rendering="crispEdges"/>
<line x1="147" y1="90.5" x2="156" y2="90.5" stroke="#808080" stroke-width="1" shape-rendering="crispEdges"/>
<text transform="translate(145 94.5) scale(0.86 1)" font-size="12.4" text-anchor="end" fill="#808080" xml:space="preserve">360 N</text>
<line x1="147" y1="124.5" x2="151" y2="124.5" stroke="#808080" stroke-width="1" shape-rendering="crispEdges"/>
<text transform="translate(145 128.5) scale(0.86 1)" font-size="12.4" text-anchor="end" fill="#808080" xml:space="preserve">330</text>
<line x1="147" y1="158.5" x2="151" y2="158.5" stroke="#808080" stroke-width="1" shape-rendering="crispEdges"/>
<text transform="translate(145 162.5) scale(0.86 1)" font-size="12.4" text-anchor="end" fill="#808080" xml:space="preserve">300</text>
<line x1="147" y1="192.5" x2="151" y2="192.5" stroke="#808080" stroke-width="1" shape-rendering="crispEdges"/>
<text transform="translate(145 196.5) scale(0.86 1)" font-size="12.4" text-anchor="end" fill="#808080" xml:space="preserve">270 W</text>
<line x1="147" y1="227.5" x2="151" y2="227.5" stroke="#808080" stroke-width="1" shape-rendering="crispEdges"/>
<text transform="translate(145 231.5) scale(0.86 1)" font-size="12.4" text-anchor="end" fill="#808080" xml:space="preserve">240</text>
<line x1="147" y1="261.5" x2="151" y2="261.5" stroke="#808080" stroke-width="1" shape-rendering="crispEdges"/>
<text transform="translate(145 265.5) scale(0.86 1)" font-size="12.4" text-anchor="end" fill="#808080" xml:space="preserve">210</text>
<line x1="147" y1="295.5" x2="151" y2="295.5" stroke="#808080" stroke-width="1" shape-rendering="crispEdges"/>
<text transform="translate(145 299.5) scale(0.86 1)" font-size="12.4" text-anchor="end" fill="#808080" xml:space="preserve">180 S</text>
<line x1="147" y1="329.5" x2="151" y2="329.5" stroke="#808080" stroke-width="1" shape-rendering="crispEdges"/>
<text transform="translate(145 333.5) scale(0.86 1)" font-size="12.4" text-anchor="end" fill="#808080" xml:space="preserve">150</text>
<line x1="147" y1="363.5" x2="151" y2="363.5" stroke="#808080" stroke-width="1" shape-rendering="crispEdges"/>
<text transform="translate(145 367.5) scale(0.86 1)" font-size="12.4" text-anchor="end" fill="#808080" xml:space="preserve">120</text>
<line x1="147" y1="398.5" x2="151" y2="398.5" stroke="#808080" stroke-width="1" shape-rendering="crispEdges"/>
<text transform="translate(145 402.5) scale(0.86 1)" font-size="12.4" text-anchor="end" fill="#808080" xml:space="preserve">90  O</text>
<line x1="147" y1="432.5" x2="151" y2="432.5" stroke="#808080" stroke-width="1" shape-rendering="crispEdges"/>
<text transform="translate(145 436.5) scale(0.86 1)" font-size="12.4" text-anchor="end" fill="#808080" xml:space="preserve">60</text>
<line x1="147" y1="466.5" x2="151" y2="466.5" stroke="#808080" stroke-width="1" shape-rendering="crispEdges"/>
<text transform="translate(145 470.5) scale(0.86 1)" font-size="12.4" text-anchor="end" fill="#808080" xml:space="preserve">30</text>
<line x1="147" y1="500.5" x2="156" y2="500.5" stroke="#808080" stroke-width="1" shape-rendering="crispEdges"/>
<text transform="translate(145 504.5) scale(0.86 1)" font-size="12.4" text-anchor="end" fill="#808080" xml:space="preserve">0    N</text>
<line x1="184" y1="90.5" x2="188" y2="90.5" stroke="#808080" stroke-width="1" shape-rendering="crispEdges"/>
<text transform="translate(182.3 94.5) scale(0.86 1)" font-size="12.4" text-anchor="end" fill="#ffff00" xml:space="preserve">10.0</text>
<line x1="184" y1="131.5" x2="188" y2="131.5" stroke="#808080" stroke-width="1" shape-rendering="crispEdges"/>
<text transform="translate(182.3 135.5) scale(0.86 1)" font-size="12.4" text-anchor="end" fill="#ffff00" xml:space="preserve">9.0</text>
<line x1="184" y1="172.5" x2="188" y2="172.5" stroke="#808080" stroke-width="1" shape-rendering="crispEdges"/>
<text transform="translate(182.3 176.5) scale(0.86 1)" font-size="12.4" text-anchor="end" fill="#ffff00" xml:space="preserve">8.0</text>
<line x1="184" y1="213.5" x2="188" y2="213.5" stroke="#808080" stroke-width="1" shape-rendering="crispEdges"/>
<text transform="translate(182.3 217.5) scale(0.86 1)" font-size="12.4" text-anchor="end" fill="#ffff00" xml:space="preserve">7.0</text>
<line x1="184" y1="254.5" x2="188" y2="254.5" stroke="#808080" stroke-width="1" shape-rendering="crispEdges"/>
<text transform="translate(182.3 258.5) scale(0.86 1)" font-size="12.4" text-anchor="end" fill="#ffff00" xml:space="preserve">6.0</text>
<line x1="184" y1="295.5" x2="188" y2="295.5" stroke="#808080" stroke-width="1" shape-rendering="crispEdges"/>
<text transform="translate(182.3 299.5) scale(0.86 1)" font-size="12.4" text-anchor="end" fill="#ffff00" xml:space="preserve">5.0</text>
<line x1="184" y1="336.5" x2="188" y2="336.5" stroke="#808080" stroke-width="1" shape-rendering="crispEdges"/>
<text transform="translate(182.3 340.5) scale(0.86 1)" font-size="12.4" text-anchor="end" fill="#ffff00" xml:space="preserve">4.0</text>
<line x1="184" y1="377.5" x2="188" y2="377.5" stroke="#808080" stroke-width="1" shape-rendering="crispEdges"/>
<text transform="translate(182.3 381.5) scale(0.86 1)" font-size="12.4" text-anchor="end" fill="#ffff00" xml:space="preserve">3.0</text>
<line x1="184" y1="418.5" x2="188" y2="418.5" stroke="#808080" stroke-width="1" shape-rendering="crispEdges"/>
<text transform="translate(182.3 422.5) scale(0.86 1)" font-size="12.4" text-anchor="end" fill="#ffff00" xml:space="preserve">2.0</text>
<line x1="184" y1="459.5" x2="188" y2="459.5" stroke="#808080" stroke-width="1" shape-rendering="crispEdges"/>
<text transform="translate(182.3 463.5) scale(0.86 1)" font-size="12.4" text-anchor="end" fill="#ffff00" xml:space="preserve">1.0</text>
<line x1="184" y1="500.5" x2="188" y2="500.5" stroke="#808080" stroke-width="1" shape-rendering="crispEdges"/>
<text transform="translate(182.3 504.5) scale(0.86 1)" font-size="12.4" text-anchor="end" fill="#ffff00" xml:space="preserve">0.0</text>
<line x1="649" y1="90.5" x2="653" y2="90.5" stroke="#808080" stroke-width="1" shape-rendering="crispEdges"/>
<text transform="translate(654.2 94.5) scale(0.86 1)" font-size="12.4" fill="#7070ff" xml:space="preserve">100</text>
<line x1="649" y1="131.5" x2="653" y2="131.5" stroke="#808080" stroke-width="1" shape-rendering="crispEdges"/>
<text transform="translate(654.2 135.5) scale(0.86 1)" font-size="12.4" fill="#7070ff" xml:space="preserve">90</text>
<line x1="649" y1="172.5" x2="653" y2="172.5" stroke="#808080" stroke-width="1" shape-rendering="crispEdges"/>
<text transform="translate(654.2 176.5) scale(0.86 1)" font-size="12.4" fill="#7070ff" xml:space="preserve">80</text>
<line x1="649" y1="213.5" x2="653" y2="213.5" stroke="#808080" stroke-width="1" shape-rendering="crispEdges"/>
<text transform="translate(654.2 217.5) scale(0.86 1)" font-size="12.4" fill="#7070ff" xml:space="preserve">70</text>
<line x1="649" y1="254.5" x2="653" y2="254.5" stroke="#808080" stroke-width="1" shape-rendering="crispEdges"/>
<text transform="translate(654.2 258.5) scale(0.86 1)" font-size="12.4" fill="#7070ff" xml:space="preserve">60</text>
<line x1="649" y1="295.5" x2="653" y2="295.5" stroke="#808080" stroke-width="1" shape-rendering="crispEdges"/>
<text transform="translate(654.2 299.5) scale(0.86 1)" font-size="12.4" fill="#7070ff" xml:space="preserve">50</text>
<line x1="649" y1="336.5" x2="653" y2="336.5" stroke="#808080" stroke-width="1" shape-rendering="crispEdges"/>
<text transform="translate(654.2 340.5) scale(0.86 1)" font-size="12.4" fill="#7070ff" xml:space="preserve">40</text>
<line x1="649" y1="377.5" x2="653" y2="377.5" stroke="#808080" stroke-width="1" shape-rendering="crispEdges"/>
<text transform="translate(654.2 381.5) scale(0.86 1)" font-size="12.4" fill="#7070ff" xml:space="preserve">30</text>
<line x1="649" y1="418.5" x2="653" y2="418.5" stroke="#808080" stroke-width="1" shape-rendering="crispEdges"/>
<text transform="translate(654.2 422.5) scale(0.86 1)" font-size="12.4" fill="#7070ff" xml:space="preserve">20</text>
<line x1="649" y1="459.5" x2="653" y2="459.5" stroke="#808080" stroke-width="1" shape-rendering="crispEdges"/>
<text transform="translate(654.2 463.5) scale(0.86 1)" font-size="12.4" fill="#7070ff" xml:space="preserve">10</text>
<line x1="649" y1="500.5" x2="653" y2="500.5" stroke="#808080" stroke-width="1" shape-rendering="crispEdges"/>
<text transform="translate(654.2 504.5) scale(0.86 1)" font-size="12.4" fill="#7070ff" xml:space="preserve">0</text>
<line x1="685.5" y1="90" x2="685.5" y2="501" stroke="#808080" stroke-width="1" shape-rendering="crispEdges"/>
<line x1="681" y1="90.5" x2="690" y2="90.5" stroke="#808080" stroke-width="1" shape-rendering="crispEdges"/>
<text transform="translate(691.3 94.5) scale(0.86 1)" font-size="12.4" fill="#ff0080" xml:space="preserve">1022</text>
<line x1="686" y1="141.5" x2="690" y2="141.5" stroke="#808080" stroke-width="1" shape-rendering="crispEdges"/>
<text transform="translate(691.3 145.5) scale(0.86 1)" font-size="12.4" fill="#ff0080" xml:space="preserve">1021</text>
<line x1="686" y1="192.5" x2="690" y2="192.5" stroke="#808080" stroke-width="1" shape-rendering="crispEdges"/>
<text transform="translate(691.3 196.5) scale(0.86 1)" font-size="12.4" fill="#ff0080" xml:space="preserve">1020</text>
<line x1="686" y1="244.5" x2="690" y2="244.5" stroke="#808080" stroke-width="1" shape-rendering="crispEdges"/>
<text transform="translate(691.3 248.5) scale(0.86 1)" font-size="12.4" fill="#ff0080" xml:space="preserve">1019</text>
<line x1="686" y1="295.5" x2="690" y2="295.5" stroke="#808080" stroke-width="1" shape-rendering="crispEdges"/>
<text transform="translate(691.3 299.5) scale(0.86 1)" font-size="12.4" fill="#ff0080" xml:space="preserve">1018</text>
<line x1="686" y1="346.5" x2="690" y2="346.5" stroke="#808080" stroke-width="1" shape-rendering="crispEdges"/>
<text transform="translate(691.3 350.5) scale(0.86 1)" font-size="12.4" fill="#ff0080" xml:space="preserve">1017</text>
<line x1="686" y1="398.5" x2="690" y2="398.5" stroke="#808080" stroke-width="1" shape-rendering="crispEdges"/>
<text transform="translate(691.3 402.5) scale(0.86 1)" font-size="12.4" fill="#ff0080" xml:space="preserve">1016</text>
<line x1="686" y1="449.5" x2="690" y2="449.5" stroke="#808080" stroke-width="1" shape-rendering="crispEdges"/>
<text transform="translate(691.3 453.5) scale(0.86 1)" font-size="12.4" fill="#ff0080" xml:space="preserve">1015</text>
<line x1="681" y1="500.5" x2="690" y2="500.5" stroke="#808080" stroke-width="1" shape-rendering="crispEdges"/>
<text transform="translate(691.3 504.5) scale(0.86 1)" font-size="12.4" fill="#ff0080" xml:space="preserve">1014</text>
<line x1="722.5" y1="90" x2="722.5" y2="501" stroke="#808080" stroke-width="1" shape-rendering="crispEdges"/>
<line x1="718" y1="90.5" x2="727" y2="90.5" stroke="#808080" stroke-width="1" shape-rendering="crispEdges"/>
<text transform="translate(728.2 94.5) scale(0.86 1)" font-size="12.4" fill="#000" xml:space="preserve">60.0</text>
<line x1="723" y1="124.5" x2="727" y2="124.5" stroke="#808080" stroke-width="1" shape-rendering="crispEdges"/>
<text transform="translate(728.2 128.5) scale(0.86 1)" font-size="12.4" fill="#000" xml:space="preserve">55.0</text>
<line x1="723" y1="158.5" x2="727" y2="158.5" stroke="#808080" stroke-width="1" shape-rendering="crispEdges"/>
<text transform="translate(728.2 162.5) scale(0.86 1)" font-size="12.4" fill="#000" xml:space="preserve">50.0</text>
<line x1="723" y1="192.5" x2="727" y2="192.5" stroke="#808080" stroke-width="1" shape-rendering="crispEdges"/>
<text transform="translate(728.2 196.5) scale(0.86 1)" font-size="12.4" fill="#000" xml:space="preserve">45.0</text>
<line x1="723" y1="227.5" x2="727" y2="227.5" stroke="#808080" stroke-width="1" shape-rendering="crispEdges"/>
<text transform="translate(728.2 231.5) scale(0.86 1)" font-size="12.4" fill="#000" xml:space="preserve">40.0</text>
<line x1="723" y1="261.5" x2="727" y2="261.5" stroke="#808080" stroke-width="1" shape-rendering="crispEdges"/>
<text transform="translate(728.2 265.5) scale(0.86 1)" font-size="12.4" fill="#000" xml:space="preserve">35.0</text>
<line x1="723" y1="295.5" x2="727" y2="295.5" stroke="#808080" stroke-width="1" shape-rendering="crispEdges"/>
<text transform="translate(728.2 299.5) scale(0.86 1)" font-size="12.4" fill="#000" xml:space="preserve">30.0</text>
<line x1="723" y1="329.5" x2="727" y2="329.5" stroke="#808080" stroke-width="1" shape-rendering="crispEdges"/>
<text transform="translate(728.2 333.5) scale(0.86 1)" font-size="12.4" fill="#000" xml:space="preserve">25.0</text>
<line x1="723" y1="363.5" x2="727" y2="363.5" stroke="#808080" stroke-width="1" shape-rendering="crispEdges"/>
<text transform="translate(728.2 367.5) scale(0.86 1)" font-size="12.4" fill="#000" xml:space="preserve">20.0</text>
<line x1="723" y1="398.5" x2="727" y2="398.5" stroke="#808080" stroke-width="1" shape-rendering="crispEdges"/>
<text transform="translate(728.2 402.5) scale(0.86 1)" font-size="12.4" fill="#000" xml:space="preserve">15.0</text>
<line x1="723" y1="432.5" x2="727" y2="432.5" stroke="#808080" stroke-width="1" shape-rendering="crispEdges"/>
<text transform="translate(728.2 436.5) scale(0.86 1)" font-size="12.4" fill="#000" xml:space="preserve">10.0</text>
<line x1="723" y1="466.5" x2="727" y2="466.5" stroke="#808080" stroke-width="1" shape-rendering="crispEdges"/>
<text transform="translate(728.2 470.5) scale(0.86 1)" font-size="12.4" fill="#000" xml:space="preserve">5.0</text>
<line x1="718" y1="500.5" x2="727" y2="500.5" stroke="#808080" stroke-width="1" shape-rendering="crispEdges"/>
<text transform="translate(728.2 504.5) scale(0.86 1)" font-size="12.4" fill="#000" xml:space="preserve">0.0</text>
<line x1="759.5" y1="90" x2="759.5" y2="501" stroke="#808080" stroke-width="1" shape-rendering="crispEdges"/>
<line x1="755" y1="90.5" x2="764" y2="90.5" stroke="#808080" stroke-width="1" shape-rendering="crispEdges"/>
<text transform="translate(765.5 94.5) scale(0.86 1)" font-size="12.4" fill="#ff8000" xml:space="preserve">100</text>
<line x1="760" y1="131.5" x2="764" y2="131.5" stroke="#808080" stroke-width="1" shape-rendering="crispEdges"/>
<text transform="translate(765.5 135.5) scale(0.86 1)" font-size="12.4" fill="#ff8000" xml:space="preserve">90</text>
<line x1="760" y1="172.5" x2="764" y2="172.5" stroke="#808080" stroke-width="1" shape-rendering="crispEdges"/>
<text transform="translate(765.5 176.5) scale(0.86 1)" font-size="12.4" fill="#ff8000" xml:space="preserve">80</text>
<line x1="760" y1="213.5" x2="764" y2="213.5" stroke="#808080" stroke-width="1" shape-rendering="crispEdges"/>
<text transform="translate(765.5 217.5) scale(0.86 1)" font-size="12.4" fill="#ff8000" xml:space="preserve">70</text>
<line x1="760" y1="254.5" x2="764" y2="254.5" stroke="#808080" stroke-width="1" shape-rendering="crispEdges"/>
<text transform="translate(765.5 258.5) scale(0.86 1)" font-size="12.4" fill="#ff8000" xml:space="preserve">60</text>
<line x1="760" y1="295.5" x2="764" y2="295.5" stroke="#808080" stroke-width="1" shape-rendering="crispEdges"/>
<text transform="translate(765.5 299.5) scale(0.86 1)" font-size="12.4" fill="#ff8000" xml:space="preserve">50</text>
<line x1="760" y1="336.5" x2="764" y2="336.5" stroke="#808080" stroke-width="1" shape-rendering="crispEdges"/>
<text transform="translate(765.5 340.5) scale(0.86 1)" font-size="12.4" fill="#ff8000" xml:space="preserve">40</text>
<line x1="760" y1="377.5" x2="764" y2="377.5" stroke="#808080" stroke-width="1" shape-rendering="crispEdges"/>
<text transform="translate(765.5 381.5) scale(0.86 1)" font-size="12.4" fill="#ff8000" xml:space="preserve">30</text>
<line x1="760" y1="418.5" x2="764" y2="418.5" stroke="#808080" stroke-width="1" shape-rendering="crispEdges"/>
<text transform="translate(765.5 422.5) scale(0.86 1)" font-size="12.4" fill="#ff8000" xml:space="preserve">20</text>
<line x1="760" y1="459.5" x2="764" y2="459.5" stroke="#808080" stroke-width="1" shape-rendering="crispEdges"/>
<text transform="translate(765.5 463.5) scale(0.86 1)" font-size="12.4" fill="#ff8000" xml:space="preserve">10</text>
<line x1="755" y1="500.5" x2="764" y2="500.5" stroke="#808080" stroke-width="1" shape-rendering="crispEdges"/>
<text transform="translate(765.5 504.5) scale(0.86 1)" font-size="12.4" fill="#ff8000" xml:space="preserve">0</text>
<line x1="796.5" y1="90" x2="796.5" y2="501" stroke="#808080" stroke-width="1" shape-rendering="crispEdges"/>
<line x1="792" y1="90.5" x2="801" y2="90.5" stroke="#808080" stroke-width="1" shape-rendering="crispEdges"/>
<text transform="translate(802.5 94.5) scale(0.86 1)" font-size="12.4" fill="#ffa080" xml:space="preserve">1000</text>
<line x1="797" y1="110.5" x2="801" y2="110.5" stroke="#808080" stroke-width="1" shape-rendering="crispEdges"/>
<text transform="translate(802.5 114.5) scale(0.86 1)" font-size="12.4" fill="#ffa080" xml:space="preserve">950</text>
<line x1="797" y1="131.5" x2="801" y2="131.5" stroke="#808080" stroke-width="1" shape-rendering="crispEdges"/>
<text transform="translate(802.5 135.5) scale(0.86 1)" font-size="12.4" fill="#ffa080" xml:space="preserve">900</text>
<line x1="797" y1="152.5" x2="801" y2="152.5" stroke="#808080" stroke-width="1" shape-rendering="crispEdges"/>
<text transform="translate(802.5 156.5) scale(0.86 1)" font-size="12.4" fill="#ffa080" xml:space="preserve">850</text>
<line x1="797" y1="172.5" x2="801" y2="172.5" stroke="#808080" stroke-width="1" shape-rendering="crispEdges"/>
<text transform="translate(802.5 176.5) scale(0.86 1)" font-size="12.4" fill="#ffa080" xml:space="preserve">800</text>
<line x1="797" y1="192.5" x2="801" y2="192.5" stroke="#808080" stroke-width="1" shape-rendering="crispEdges"/>
<text transform="translate(802.5 196.5) scale(0.86 1)" font-size="12.4" fill="#ffa080" xml:space="preserve">750</text>
<line x1="797" y1="213.5" x2="801" y2="213.5" stroke="#808080" stroke-width="1" shape-rendering="crispEdges"/>
<text transform="translate(802.5 217.5) scale(0.86 1)" font-size="12.4" fill="#ffa080" xml:space="preserve">700</text>
<line x1="797" y1="234.5" x2="801" y2="234.5" stroke="#808080" stroke-width="1" shape-rendering="crispEdges"/>
<text transform="translate(802.5 238.5) scale(0.86 1)" font-size="12.4" fill="#ffa080" xml:space="preserve">650</text>
<line x1="797" y1="254.5" x2="801" y2="254.5" stroke="#808080" stroke-width="1" shape-rendering="crispEdges"/>
<text transform="translate(802.5 258.5) scale(0.86 1)" font-size="12.4" fill="#ffa080" xml:space="preserve">600</text>
<line x1="797" y1="274.5" x2="801" y2="274.5" stroke="#808080" stroke-width="1" shape-rendering="crispEdges"/>
<text transform="translate(802.5 278.5) scale(0.86 1)" font-size="12.4" fill="#ffa080" xml:space="preserve">550</text>
<line x1="797" y1="295.5" x2="801" y2="295.5" stroke="#808080" stroke-width="1" shape-rendering="crispEdges"/>
<text transform="translate(802.5 299.5) scale(0.86 1)" font-size="12.4" fill="#ffa080" xml:space="preserve">500</text>
<line x1="797" y1="316.5" x2="801" y2="316.5" stroke="#808080" stroke-width="1" shape-rendering="crispEdges"/>
<text transform="translate(802.5 320.5) scale(0.86 1)" font-size="12.4" fill="#ffa080" xml:space="preserve">450</text>
<line x1="797" y1="336.5" x2="801" y2="336.5" stroke="#808080" stroke-width="1" shape-rendering="crispEdges"/>
<text transform="translate(802.5 340.5) scale(0.86 1)" font-size="12.4" fill="#ffa080" xml:space="preserve">400</text>
<line x1="797" y1="356.5" x2="801" y2="356.5" stroke="#808080" stroke-width="1" shape-rendering="crispEdges"/>
<text transform="translate(802.5 360.5) scale(0.86 1)" font-size="12.4" fill="#ffa080" xml:space="preserve">350</text>
<line x1="797" y1="377.5" x2="801" y2="377.5" stroke="#808080" stroke-width="1" shape-rendering="crispEdges"/>
<text transform="translate(802.5 381.5) scale(0.86 1)" font-size="12.4" fill="#ffa080" xml:space="preserve">300</text>
<line x1="797" y1="398.5" x2="801" y2="398.5" stroke="#808080" stroke-width="1" shape-rendering="crispEdges"/>
<text transform="translate(802.5 402.5) scale(0.86 1)" font-size="12.4" fill="#ffa080" xml:space="preserve">250</text>
<line x1="797" y1="418.5" x2="801" y2="418.5" stroke="#808080" stroke-width="1" shape-rendering="crispEdges"/>
<text transform="translate(802.5 422.5) scale(0.86 1)" font-size="12.4" fill="#ffa080" xml:space="preserve">200</text>
<line x1="797" y1="438.5" x2="801" y2="438.5" stroke="#808080" stroke-width="1" shape-rendering="crispEdges"/>
<text transform="translate(802.5 442.5) scale(0.86 1)" font-size="12.4" fill="#ffa080" xml:space="preserve">150</text>
<line x1="797" y1="459.5" x2="801" y2="459.5" stroke="#808080" stroke-width="1" shape-rendering="crispEdges"/>
<text transform="translate(802.5 463.5) scale(0.86 1)" font-size="12.4" fill="#ffa080" xml:space="preserve">100</text>
<line x1="797" y1="480.5" x2="801" y2="480.5" stroke="#808080" stroke-width="1" shape-rendering="crispEdges"/>
<text transform="translate(802.5 484.5) scale(0.86 1)" font-size="12.4" fill="#ffa080" xml:space="preserve">50</text>
<line x1="792" y1="500.5" x2="801" y2="500.5" stroke="#808080" stroke-width="1" shape-rendering="crispEdges"/>
<text transform="translate(802.5 504.5) scale(0.86 1)" font-size="12.4" fill="#ffa080" xml:space="preserve">0</text>
<text transform="translate(25 79) scale(0.86 1)" font-size="12.4" text-anchor="middle" fill="#008000" xml:space="preserve">°C</text>
<text transform="translate(64.6 79) scale(0.86 1)" font-size="12.4" text-anchor="middle" fill="#00ffff" xml:space="preserve">lf</text>
<text transform="translate(95.2 79) scale(0.86 1)" font-size="12.4" text-anchor="middle" fill="#0000ff" xml:space="preserve">l/m²</text>
<text transform="translate(139.5 79) scale(0.86 1)" font-size="12.4" text-anchor="middle" fill="#808080" xml:space="preserve">°</text>
<text transform="translate(167.3 79) scale(0.86 1)" font-size="12.4" text-anchor="middle" fill="#ffff00" xml:space="preserve">UV-I</text>
<text transform="translate(651.2 79) scale(0.86 1)" font-size="12.4" text-anchor="middle" fill="#7070ff" xml:space="preserve">%</text>
<text transform="translate(695 79) scale(0.86 1)" font-size="12.4" text-anchor="middle" fill="#ff0080" xml:space="preserve">hPa</text>
<text transform="translate(734.8 79) scale(0.86 1)" font-size="12.4" text-anchor="middle" fill="#000" xml:space="preserve">km/h</text>
<text transform="translate(767.3 79) scale(0.86 1)" font-size="12.4" text-anchor="middle" fill="#ff8000" xml:space="preserve">min</text>
<text transform="translate(809 79) scale(0.86 1)" font-size="12.4" text-anchor="middle" fill="#ffa080" xml:space="preserve">W/m²</text>
<text transform="translate(10.5 529.5) scale(0.86 1)" font-size="12.4" fill="#000" xml:space="preserve">13:40</text>
<path d="M40 529 A4.5 5 0 0 1 49 529 Z" fill="#ffee00"/>
<text transform="translate(281.7 529.5) scale(0.86 1)" font-size="12.4" fill="#000" xml:space="preserve">06:36</text>
<g stroke="#ffffa0" stroke-width="0.8"><line x1="310.5" y1="525" x2="319.5" y2="525"/><line x1="315" y1="520.5" x2="315" y2="529.5"/><line x1="312" y1="522" x2="318" y2="528"/><line x1="312" y1="528" x2="318" y2="522"/></g>
<circle cx="315" cy="525.3" r="3.4" fill="#ffee00"/>
<text transform="translate(321.5 529.5) scale(0.86 1)" font-size="12.4" fill="#000" xml:space="preserve">:01</text>
<line x1="315" y1="496" x2="315" y2="509" stroke="#ffff00" stroke-width="2" shape-rendering="crispEdges"/>
<line x1="577" y1="497" x2="577" y2="508.5" stroke="#ffff00" stroke-width="2" shape-rendering="crispEdges"/>
<line x1="523" y1="496" x2="523" y2="508" stroke="#808080" stroke-width="2" shape-rendering="crispEdges"/>
<line x1="303" y1="499" x2="303" y2="508.5" stroke="#808080" stroke-width="2" shape-rendering="crispEdges"/>
<rect x="518.5" y="520.5" width="5" height="5" fill="none" stroke="#2020c0" stroke-width="1" stroke-dasharray="1 1" shape-rendering="crispEdges"/>
<path d="M525.3 522.3 L528.4 527.6 H526.2 V531 H524.2 V527.6 H522.4 Z" fill="#ffe800" stroke="#a09000" stroke-width="0.4"/>
<text transform="translate(529.5 529.5) scale(0.86 1)" font-size="12.4" fill="#000" xml:space="preserve">1'</text>
<text transform="translate(543.5 529.5) scale(0.86 1)" font-size="12.4" fill="#000" xml:space="preserve">20:16</text>
<rect x="574.5" y="523.5" width="5" height="4.5" fill="none" stroke="#ffff00" stroke-width="1" shape-rendering="crispEdges"/>
<rect x="0" y="534" width="835" height="86" fill="#c0c0c0"/>
<line x1="0" y1="534.5" x2="835" y2="534.5" stroke="#e8e8e8" stroke-width="1"/>
<rect x="87" y="534" width="1" height="86" fill="#ffffff" shape-rendering="crispEdges"/>
<rect x="88" y="534" width="1" height="86" fill="#808080" shape-rendering="crispEdges"/>
<rect x="204" y="534" width="1" height="86" fill="#ffffff" shape-rendering="crispEdges"/>
<rect x="205" y="534" width="1" height="86" fill="#808080" shape-rendering="crispEdges"/>
<rect x="322" y="534" width="1" height="86" fill="#ffffff" shape-rendering="crispEdges"/>
<rect x="323" y="534" width="1" height="86" fill="#808080" shape-rendering="crispEdges"/>
<rect x="440" y="534" width="1" height="86" fill="#ffffff" shape-rendering="crispEdges"/>
<rect x="441" y="534" width="1" height="86" fill="#808080" shape-rendering="crispEdges"/>
<rect x="558" y="534" width="1" height="86" fill="#ffffff" shape-rendering="crispEdges"/>
<rect x="559" y="534" width="1" height="86" fill="#808080" shape-rendering="crispEdges"/>
<rect x="676" y="534" width="1" height="86" fill="#ffffff" shape-rendering="crispEdges"/>
<rect x="677" y="534" width="1" height="86" fill="#808080" shape-rendering="crispEdges"/>
<rect x="794" y="534" width="1" height="86" fill="#ffffff" shape-rendering="crispEdges"/>
<rect x="795" y="534" width="1" height="86" fill="#808080" shape-rendering="crispEdges"/>
<text transform="translate(9 552) scale(0.935 1)" font-size="12.3" font-weight="bold" fill="#000" xml:space="preserve">Sensor</text>
<text transform="translate(9 568) scale(0.935 1)" font-size="12.3" font-weight="bold" fill="#000" xml:space="preserve">MinWert</text>
<text transform="translate(9 584) scale(0.935 1)" font-size="12.3" font-weight="bold" fill="#000" xml:space="preserve">MaxWert</text>
<text transform="translate(9 600) scale(0.935 1)" font-size="12.3" font-weight="bold" fill="#000" xml:space="preserve">Durchschnitt</text>
<text transform="translate(9 616) scale(0.935 1)" font-size="12.3" font-weight="bold" fill="#000" xml:space="preserve">14.04. 23:55</text>
<text transform="translate(95 552) scale(0.935 1)" font-size="12.3" font-weight="bold" fill="#000" xml:space="preserve">T- 2m aktiv</text>
<text transform="translate(199 552) scale(0.935 1)" font-size="12.3" text-anchor="end" font-weight="bold" fill="#000" xml:space="preserve">°C</text>
<text transform="translate(100.5 568) scale(0.86 1)" font-size="12.4" fill="#000" xml:space="preserve">06:20</text>
<text transform="translate(199 568) scale(0.86 1)" font-size="12.4" text-anchor="end" fill="#000" xml:space="preserve">12.3</text>
<text transform="translate(100.5 584) scale(0.86 1)" font-size="12.4" fill="#000" xml:space="preserve">15:05</text>
<text transform="translate(199 584) scale(0.86 1)" font-size="12.4" text-anchor="end" fill="#000" xml:space="preserve">21.1</text>
<text transform="translate(100.5 600) scale(0.86 1)" font-size="12.4" fill="#000" xml:space="preserve">(+ 6.15 )</text>
<text transform="translate(199 600) scale(0.86 1)" font-size="12.4" text-anchor="end" fill="#000" xml:space="preserve">16.05</text>
<text transform="translate(199 616) scale(0.935 1)" font-size="12.3" text-anchor="end" font-weight="bold" fill="#000" xml:space="preserve">12.3</text>
<text transform="translate(212.5 552) scale(0.935 1)" font-size="12.3" font-weight="bold" fill="#000" xml:space="preserve">F- 2m aktiv</text>
<text transform="translate(317 552) scale(0.935 1)" font-size="12.3" text-anchor="end" font-weight="bold" fill="#000" xml:space="preserve">%</text>
<text transform="translate(219 568) scale(0.86 1)" font-size="12.4" fill="#000" xml:space="preserve">15:05</text>
<text transform="translate(317 568) scale(0.86 1)" font-size="12.4" text-anchor="end" fill="#000" xml:space="preserve">58</text>
<text transform="translate(219 584) scale(0.86 1)" font-size="12.4" fill="#000" xml:space="preserve">05:45</text>
<text transform="translate(317 584) scale(0.86 1)" font-size="12.4" text-anchor="end" fill="#000" xml:space="preserve">89</text>
<text transform="translate(317 600) scale(0.86 1)" font-size="12.4" text-anchor="end" fill="#000" xml:space="preserve">76</text>
<text transform="translate(215.5 616) scale(0.86 1)" font-size="12.4" fill="#000" xml:space="preserve">9.57 g/m³</text>
<text transform="translate(317 616) scale(0.935 1)" font-size="12.3" text-anchor="end" font-weight="bold" fill="#000" xml:space="preserve">88</text>
<text transform="translate(331 552) scale(0.935 1)" font-size="12.3" font-weight="bold" fill="#000" xml:space="preserve">Luftdruck</text>
<text transform="translate(434.5 552) scale(0.935 1)" font-size="12.3" text-anchor="end" font-weight="bold" fill="#000" xml:space="preserve">hPa</text>
<text transform="translate(337 568) scale(0.86 1)" font-size="12.4" fill="#000" xml:space="preserve">00:00</text>
<text transform="translate(434.5 568) scale(0.86 1)" font-size="12.4" text-anchor="end" fill="#000" xml:space="preserve">1015.0</text>
<text transform="translate(337 584) scale(0.86 1)" font-size="12.4" fill="#000" xml:space="preserve">23:30</text>
<text transform="translate(434.5 584) scale(0.86 1)" font-size="12.4" text-anchor="end" fill="#000" xml:space="preserve">1020.6</text>
<text transform="translate(331 600) scale(0.86 1)" font-size="12.4" fill="#000" xml:space="preserve">^0.9hPa/h</text>
<text transform="translate(434.5 600) scale(0.86 1)" font-size="12.4" text-anchor="end" fill="#000" xml:space="preserve">1017.8</text>
<text transform="translate(331 616) scale(0.86 1)" font-size="12.4" fill="#000" xml:space="preserve">veränderlich</text>
<text transform="translate(434.5 616) scale(0.935 1)" font-size="12.3" text-anchor="end" font-weight="bold" fill="#000" xml:space="preserve">1020.5</text>
<text transform="translate(449 552) scale(0.935 1)" font-size="12.3" font-weight="bold" fill="#000" xml:space="preserve">Windböen</text>
<text transform="translate(552.5 552) scale(0.935 1)" font-size="12.3" text-anchor="end" font-weight="bold" fill="#000" xml:space="preserve">km/h</text>
<text transform="translate(449 568) scale(0.86 1)" font-size="12.4" fill="#000" xml:space="preserve">Ø 10 min.</text>
<text transform="translate(552.5 568) scale(0.86 1)" font-size="12.4" text-anchor="end" fill="#000" xml:space="preserve">0.0</text>
<text transform="translate(455 584) scale(0.86 1)" font-size="12.4" fill="#000" xml:space="preserve">14:35</text>
<text transform="translate(552.5 584) scale(0.86 1)" font-size="12.4" text-anchor="end" fill="#000" xml:space="preserve">NW 20.9</text>
<text transform="translate(552.5 600) scale(0.86 1)" font-size="12.4" text-anchor="end" fill="#000" xml:space="preserve">6.7</text>
<text transform="translate(455 616) scale(0.86 1)" font-size="12.4" fill="#000" xml:space="preserve">0 Bft N</text>
<text transform="translate(552.5 616) scale(0.935 1)" font-size="12.3" text-anchor="end" font-weight="bold" fill="#000" xml:space="preserve">0.0</text>
<text transform="translate(566.5 552) scale(0.935 1)" font-size="12.3" font-weight="bold" fill="#000" xml:space="preserve">Regen</text>
<text transform="translate(670 552) scale(0.935 1)" font-size="12.3" text-anchor="end" font-weight="bold" fill="#000" xml:space="preserve">l/m²</text>
<text transform="translate(566.5 568) scale(0.86 1)" font-size="12.4" fill="#000" xml:space="preserve">35 min.</text>
<text transform="translate(572.5 584) scale(0.86 1)" font-size="12.4" fill="#000" xml:space="preserve">00:00</text>
<text transform="translate(670 584) scale(0.86 1)" font-size="12.4" text-anchor="end" fill="#000" xml:space="preserve">0.0</text>
<text transform="translate(566.5 600) scale(0.86 1)" font-size="12.4" fill="#000" xml:space="preserve">Gesamt:</text>
<text transform="translate(670 600) scale(0.86 1)" font-size="12.4" text-anchor="end" fill="#000" xml:space="preserve">0.0</text>
<text transform="translate(570 616) scale(0.86 1)" font-size="12.4" fill="#000" xml:space="preserve">0.0 l/m²</text>
<text transform="translate(670 616) scale(0.935 1)" font-size="12.3" text-anchor="end" font-weight="bold" fill="#000" xml:space="preserve">0.0</text>
<text transform="translate(684.5 552) scale(0.935 1)" font-size="12.3" font-weight="bold" fill="#000" xml:space="preserve">PMV+2:17</text>
<text transform="translate(684.5 568) scale(0.86 1)" font-size="12.4" fill="#000" xml:space="preserve">WC 12.3 °C</text>
<text transform="translate(684.5 584) scale(0.86 1)" font-size="12.4" fill="#000" xml:space="preserve">TP 10.4 °C</text>
<text transform="translate(684.5 600) scale(0.86 1)" font-size="12.4" fill="#000" xml:space="preserve">0.7hPa/3h</text>
<text transform="translate(684.5 616) scale(0.86 1)" font-size="12.4" fill="#000" xml:space="preserve">0.1hPa/1h</text>
</svg></body></html>
